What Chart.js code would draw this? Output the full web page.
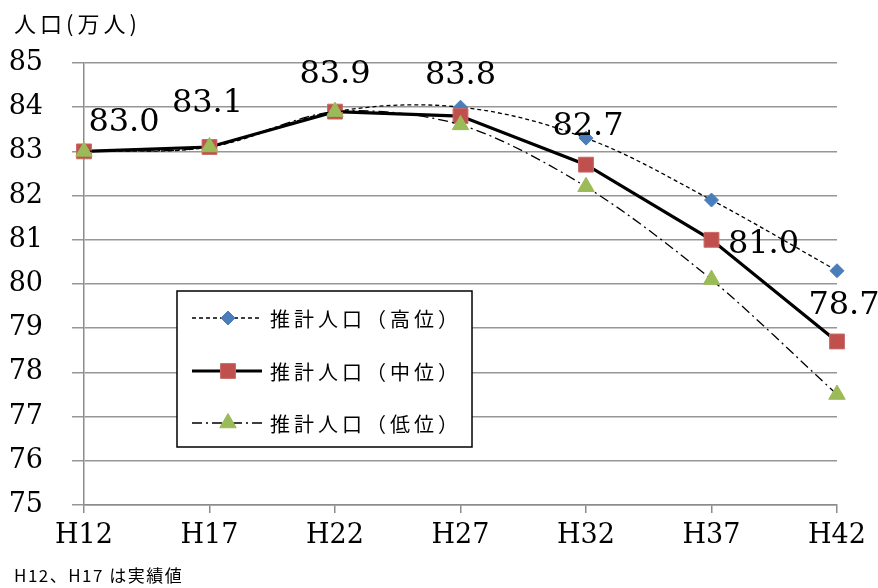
<!DOCTYPE html>
<html><head><meta charset="utf-8">
<script src="https://cdn.jsdelivr.net/npm/chart.js@4/dist/chart.umd.min.js"></script>
<style>html,body{margin:0;padding:0;background:#fff}#wrap{width:878px;height:588px;position:relative}</style>
</head><body><div id="wrap"><canvas id="c" width="878" height="588"></canvas></div>
<script>
const categories = ['H12','H17','H22','H27','H32','H37','H42'];
const highValues = [83.0, 83.1, 83.9, 84.0, 83.3, 81.9, 80.3];
const midValues  = [83.0, 83.1, 83.9, 83.8, 82.7, 81.0, 78.7];
const lowValues  = [83.0, 83.1, 83.9, 83.6, 82.2, 80.1, 77.5];
const seriesNames = ['推計人口（高位）', '推計人口（中位）', '推計人口（低位）'];
const yTickValues = [75, 76, 77, 78, 79, 80, 81, 82, 83, 84, 85];
const axisTitle = '人口(万人)';
const footnote = 'H12、H17 は実績値';

const SERIF = '"DejaVu Serif", "Liberation Serif", serif';
const CJK = '"Noto Sans CJK JP", sans-serif';
const labelOffsets = [[40,-29],[-2,-43],[0,-37],[0,-40],[2,-38],[52,5],[7,-36]];

const extras = {
  id: 'extras',
  afterDatasetsDraw(chart) {
    const ctx = chart.ctx;
    const meta = chart.getDatasetMeta(1);
    ctx.save();
    ctx.fillStyle = '#000';
    ctx.font = '32px ' + SERIF;
    ctx.textAlign = 'center';
    ctx.textBaseline = 'middle';
    meta.data.forEach((pt, i) => {
      const o = labelOffsets[i];
      ctx.fillText(midValues[i].toFixed(1), pt.x + o[0], pt.y + o[1]);
    });
    ctx.restore();
  },
  afterDraw(chart) {
    const ctx = chart.ctx;
    ctx.save();
    ctx.fillStyle = '#000';
    ctx.font = '22px ' + CJK;
    ctx.textAlign = 'left';
    ctx.textBaseline = 'middle';
    try { ctx.letterSpacing = '4px'; } catch(e) {}
    ctx.fillText(axisTitle, 14, 24);
    ctx.font = '17px ' + CJK;
    try { ctx.letterSpacing = '1.5px'; } catch(e) {}
    ctx.fillText(footnote, 14, 576);
    try { ctx.letterSpacing = '0px'; } catch(e) {}
    const bx = 177, by = 291, bw = 295, bh = 156;
    ctx.fillStyle = '#fff';
    ctx.fillRect(bx, by, bw, bh);
    ctx.strokeStyle = '#000';
    ctx.lineWidth = 1.5;
    ctx.strokeRect(bx, by, bw, bh);
    const rows = [318, 371, 423];
    chart.data.datasets.forEach((ds, i) => {
      const y = rows[i];
      ctx.save();
      ctx.strokeStyle = ds.borderColor;
      ctx.lineWidth = ds.borderWidth;
      ctx.setLineDash(ds.borderDash || []);
      ctx.beginPath();
      ctx.moveTo(192, y);
      ctx.lineTo(262, y);
      ctx.stroke();
      ctx.setLineDash([]);
      ctx.fillStyle = ds.pointBackgroundColor;
      ctx.strokeStyle = ds.pointBorderColor;
      ctx.lineWidth = 1;
      Chart.helpers.drawPoint(ctx, {pointStyle: ds.pointStyle, radius: ds.pointRadius, rotation: 0, borderWidth: 1}, 228, y);
      ctx.restore();
      ctx.fillStyle = '#000';
      ctx.font = '20px ' + CJK;
      ctx.textAlign = 'left';
      ctx.textBaseline = 'middle';
      try { ctx.letterSpacing = '4px'; } catch(e) {}
      ctx.fillText(seriesNames[i], 270, y + 1);
      try { ctx.letterSpacing = '0px'; } catch(e) {}
    });
    ctx.restore();
  }
};

new Chart(document.getElementById('c'), {
  type: 'line',
  data: {
    labels: categories,
    datasets: [
      { label: seriesNames[0], data: highValues, borderColor: '#000', borderWidth: 1.3, borderDash: [4,3],
        tension: 0.35, pointStyle: 'rectRot', pointRadius: 7, pointBackgroundColor: '#4a7ebb', pointBorderColor: '#4a7ebb',
        pointBorderWidth: 1, order: 2 },
      { label: seriesNames[1], data: midValues, borderColor: '#000', borderWidth: 3.2, borderDash: [],
        tension: 0, pointStyle: 'rect', pointRadius: 10.5, pointBackgroundColor: '#c0504d', pointBorderColor: '#c86a67',
        pointBorderWidth: 1, order: 1 },
      { label: seriesNames[2], data: lowValues, borderColor: '#000', borderWidth: 1.3, borderDash: [10,4,2,4],
        tension: 0.3, pointStyle: 'triangle', pointRadius: 9.5, pointBackgroundColor: '#9bbb59', pointBorderColor: '#9bbb59',
        pointBorderWidth: 1, order: 0 }
    ]
  },
  options: {
    responsive: false,
    animation: false,
    devicePixelRatio: 1,
    layout: { padding: { left: 0, right: 41, top: 63, bottom: 0 } },
    plugins: { legend: { display: false }, tooltip: { enabled: false } },
    scales: {
      x: {
        offset: false,
        grid: { drawOnChartArea: false, drawTicks: true, tickLength: 8, color: '#8c8c8c', lineWidth: 1.5 },
        border: { color: '#8c8c8c', width: 1.5 },
        ticks: { font: { family: SERIF, size: 27 }, color: '#000', padding: 7, maxRotation: 0, autoSkip: false },
        afterFit: s => { s.height = 83; }
      },
      y: {
        min: 75, max: 85,
        afterBuildTicks: s => { s.ticks = yTickValues.map(v => ({ value: v })); },
        grid: { color: '#969696', lineWidth: 1.5, tickLength: 12 },
        border: { color: '#8c8c8c', width: 1.5 },
        ticks: { font: { family: SERIF, size: 27 }, color: '#000', padding: 29 },
        afterFit: s => { s.width = 84; }
      }
    }
  },
  plugins: [extras]
});
</script>
</body></html>
